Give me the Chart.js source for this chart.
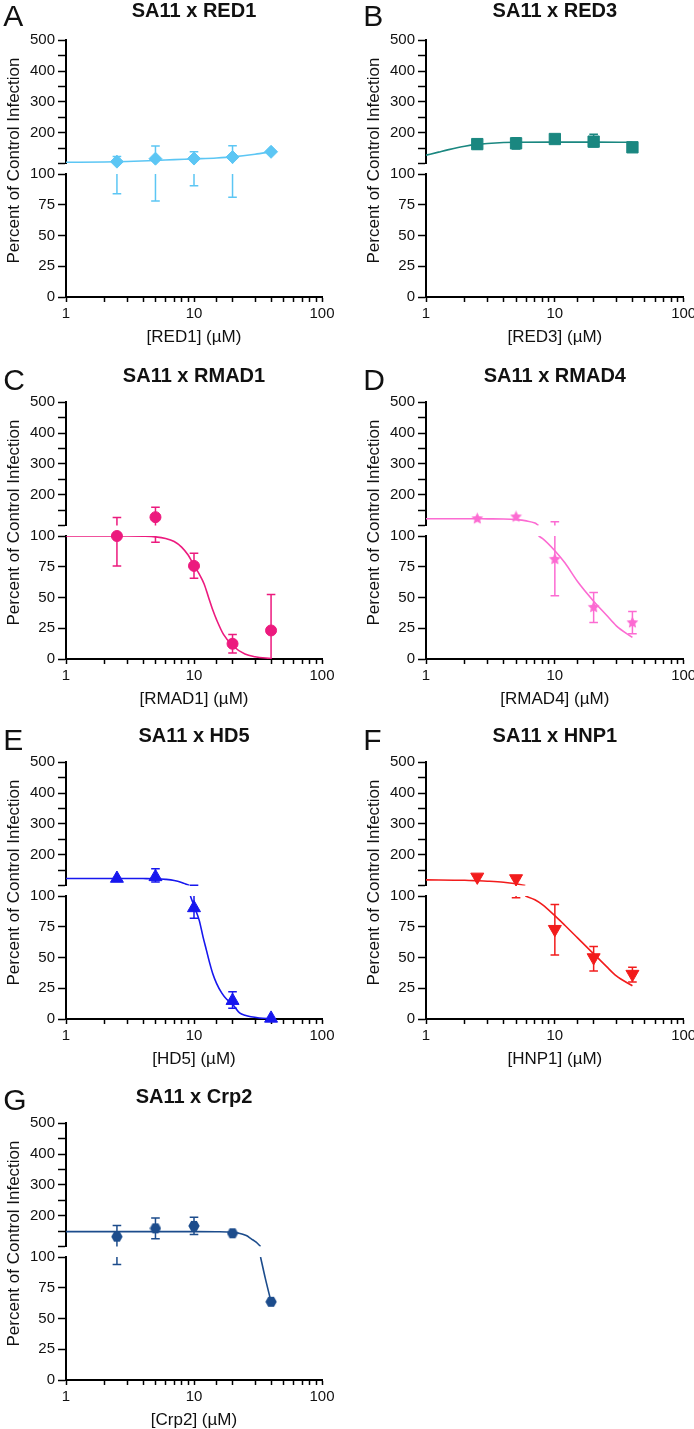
<!DOCTYPE html>
<html><head><meta charset="utf-8">
<script src="https://cdn.jsdelivr.net/npm/chart.js@4"></script>
<style>
html,body{margin:0;padding:0;background:#fff;overflow:hidden;width:694px;height:1429px;}
#wrap{position:relative;width:694px;height:1429px;overflow:hidden;}
.panel{position:absolute;width:347px;height:361px;}
.letter{position:absolute;font-family:"Liberation Sans",Arial,sans-serif;font-size:30px;line-height:30px;color:#111;}
</style></head><body><div id="wrap"></div>
<script>
// ---------------- DATA ----------------
const doses = [2.5, 5, 10, 20, 40];
const xTickLabels = [1, 10, 100];
const yUpperTickLabels = [200, 300, 400, 500];
const yLowerTickLabels = [0, 25, 50, 75, 100];

const panelLetters = ['A', 'B', 'C', 'D', 'E', 'F', 'G'];
const panelTitles = ['SA11 x RED1', 'SA11 x RED3', 'SA11 x RMAD1', 'SA11 x RMAD4', 'SA11 x HD5', 'SA11 x HNP1', 'SA11 x Crp2'];
const xAxisTitles = ['[RED1] (µM)', '[RED3] (µM)', '[RMAD1] (µM)', '[RMAD4] (µM)', '[HD5] (µM)', '[HNP1] (µM)', '[Crp2] (µM)'];
const yAxisTitle = 'Percent of Control Infection';

// RED1
const red1Mean = [106, 115.6, 116, 121, 138];
const red1Hi = [123, 157, 138, 158, 138];
const red1Lo = [84, 78, 90.5, 81, 138];
const red1UpperX = [1, 2, 3, 5, 7, 10, 15, 20, 30, 40];
const red1UpperY = [104, 105, 106.5, 110, 112.5, 115, 118, 121.5, 130, 138];
const red1LowerX = [];
const red1LowerY = [];
// RED3
const red3Mean = [163, 165.6, 179.5, 171, 152.6];
const red3Hi = [178, 184, 179.5, 195, 152.6];
const red3Lo = [147, 147, 179.5, 154.5, 152.6];
const red3UpperX = [1, 1.25, 1.5, 2, 2.5, 3, 4, 5, 10, 20, 40];
const red3UpperY = [127, 137, 145, 156, 162, 165, 168, 169, 169.5, 169.5, 169];
const red3LowerX = [];
const red3LowerY = [];
// RMAD1
const rmad1Mean = [100, 127, 75.7, 12.4, 23.2];
const rmad1Hi = [126, 159, 86, 20, 52.4];
const rmad1Lo = [75.7, 95, 65.6, 4.9, -6];
const rmad1UpperX = [];
const rmad1UpperY = [];
const rmad1LowerX = [1, 2, 3, 4, 5, 6, 7, 8, 9, 10, 11, 12, 13, 14, 15, 17, 20, 25, 30, 40];
const rmad1LowerY = [100, 100, 100, 99.8, 99.3, 98, 95.5, 91, 84.5, 76, 69, 61, 50, 40, 32, 20, 11, 4, 1.8, 0.4];
// RMAD4
const rmad4Mean = [122, 128, 81, 42, 29.5];
const rmad4Hi = [122, 128, 112, 54, 38.6];
const rmad4Lo = [122, 128, 51.4, 29.7, 20.6];
const rmad4UpperX = [1, 2, 3, 4, 5, 6, 7, 7.47];
const rmad4UpperY = [122, 122, 121.5, 121, 119, 115, 108, 100];
const rmad4LowerX = [7.47, 8, 10, 12, 15, 20, 25, 30, 40];
const rmad4LowerY = [100, 98, 88, 78, 63, 47, 36, 27, 17.5];
// HD5
const hd5Mean = [122.7, 128, 90.3, 14.9, 0.5];
const hd5Hi = [122.7, 154, 101, 22.1, 0.5];
const hd5Lo = [122.7, 111, 82, 8.7, 0.5];
const hd5UpperX = [1, 3, 4, 5, 6, 7, 8, 8.7, 9.2];
const hd5UpperY = [122.7, 122.7, 122.5, 122, 120, 116.5, 110, 104, 100];
const hd5LowerX = [9.37, 10, 11, 11.75, 12.5, 13.3, 14, 15, 16.5, 18, 20, 22.7, 25, 32.5, 40];
const hd5LowerY = [100, 92, 80, 67, 56, 45, 37, 29, 21, 16, 12, 5, 3, 0.8, 0.3];
// HNP1
const hnp1Mean = [128, 122.7, 73, 50, 36.5];
const hnp1Hi = [128, 122.7, 93, 59, 42];
const hnp1Lo = [128, 98.5, 52, 39, 30];
const hnp1UpperX = [1, 2, 2.5, 3, 4, 5, 5.9];
const hnp1UpperY = [118.4, 117, 115.5, 114, 110.5, 105.5, 100];
const hnp1LowerX = [5.9, 7, 8, 10, 12, 15, 20, 25, 30, 40];
const hnp1LowerY = [100, 97, 93, 84, 76, 66, 53, 43, 35, 27];
// Crp2
const crp2Mean = [132, 159, 166.8, 143, 63.6];
const crp2Hi = [168, 192.6, 194.6, 143, 63.6];
const crp2Lo = [94, 125, 138.7, 143, 63.6];
const crp2UpperX = [1, 10, 15, 20, 22, 25.6, 28, 30.6, 33.1];
const crp2UpperY = [148.4, 148.3, 148, 146.5, 144, 135.5, 125, 114, 100];
const crp2LowerX = [33.1, 36, 40];
const crp2LowerY = [100, 83, 63.6];

// ---------------- STYLE / LAYOUT ----------------
const FONT = '"Liberation Sans", Arial, sans-serif';
Chart.defaults.font.family = FONT;
const colLeft = [0, 360];
const rowTop = [0, 361.7, 722.4, 1083.4];
const letterOff = [1.1, 2.8, 3.0, 1.8];
const titlePadTop = [1.5, 4.0, 4.0, 4.0];
const TITLE_SIZE = 20;

function makeShape(kind, color, size) {
  const c = document.createElement('canvas');
  c.width = size; c.height = size;
  const g = c.getContext('2d');
  g.fillStyle = color;
  g.beginPath();
  const cx = size / 2, cy = size / 2, R = size / 2 - 0.3;
  if (kind === 'star') {
    for (let i = 0; i < 10; i++) {
      const r = i % 2 === 0 ? R : R * 0.48;
      const a = -Math.PI / 2 + i * Math.PI / 5;
      g.lineTo(cx + r * Math.cos(a), cy + r * Math.sin(a));
    }
  } else {
    for (let i = 0; i < 6; i++) {
      const a = i * Math.PI / 3;
      g.lineTo(cx + R * Math.cos(a), cy + R * Math.sin(a));
    }
  }
  g.closePath();
  g.fill();
  return c;
}

const panels = [
  {color: '#5cc6f4', style: 'rectRot', radius: 6.5, mean: red1Mean, hi: red1Hi, lo: red1Lo, ux: red1UpperX, uy: red1UpperY, lx: red1LowerX, ly: red1LowerY},
  {color: '#1a8780', style: 'rect', radius: 8, mean: red3Mean, hi: red3Hi, lo: red3Lo, ux: red3UpperX, uy: red3UpperY, lx: red3LowerX, ly: red3LowerY},
  {color: '#ec1a7e', style: 'circle', radius: 5.5, mean: rmad1Mean, hi: rmad1Hi, lo: rmad1Lo, ux: rmad1UpperX, uy: rmad1UpperY, lx: rmad1LowerX, ly: rmad1LowerY},
  {color: '#fc6bd2', style: 'star', radius: 5, mean: rmad4Mean, hi: rmad4Hi, lo: rmad4Lo, ux: rmad4UpperX, uy: rmad4UpperY, lx: rmad4LowerX, ly: rmad4LowerY},
  {color: '#1717ee', style: 'triangle', radius: 7.5, mean: hd5Mean, hi: hd5Hi, lo: hd5Lo, ux: hd5UpperX, uy: hd5UpperY, lx: hd5LowerX, ly: hd5LowerY},
  {color: '#f21c1c', style: 'triangle', radius: 7.5, rot: 180, mean: hnp1Mean, hi: hnp1Hi, lo: hnp1Lo, ux: hnp1UpperX, uy: hnp1UpperY, lx: hnp1LowerX, ly: hnp1LowerY},
  {color: '#1c4c8c', style: 'hex', radius: 5, mean: crp2Mean, hi: crp2Hi, lo: crp2Lo, ux: crp2UpperX, uy: crp2UpperY, lx: crp2LowerX, ly: crp2LowerY}
];

function errorBarPlugin(p) {
  return {
    id: 'errorBars',
    beforeDatasetsDraw(chart) {
      const {ctx, scales} = chart;
      const xs = scales.x, yU = scales.yU, yL = scales.yL;
      const pix = v => (v > 100 ? yU : yL).getPixelForValue(v);
      ctx.save();
      ctx.strokeStyle = p.color;
      ctx.lineWidth = 1.5;
      doses.forEach((d, i) => {
        const lo = p.lo[i], hi = p.hi[i];
        if (hi - lo < 0.01) return;
        const px = xs.getPixelForValue(d);
        ctx.beginPath();
        if (hi > 100) {
          ctx.moveTo(px, yU.getPixelForValue(Math.max(lo, 100)));
          ctx.lineTo(px, yU.getPixelForValue(Math.min(hi, 500)));
        }
        if (lo < 100) {
          ctx.moveTo(px, yL.getPixelForValue(Math.max(lo, 0)));
          ctx.lineTo(px, yL.getPixelForValue(Math.min(hi, 100)));
        }
        const cw = 4.3;
        [hi, lo].forEach(v => {
          if (v >= 0 && v <= 500) {
            const py = pix(v);
            ctx.moveTo(px - cw, py);
            ctx.lineTo(px + cw, py);
          }
        });
        ctx.stroke();
      });
      ctx.restore();
    }
  };
}

function yTitlePlugin(text) {
  return {
    id: 'yTitle',
    afterDraw(chart) {
      const ctx = chart.ctx;
      ctx.save();
      ctx.translate(14.3, 160.5);
      ctx.rotate(-Math.PI / 2);
      ctx.textAlign = 'center';
      ctx.textBaseline = 'middle';
      ctx.font = '17px ' + FONT;
      ctx.fillStyle = '#111';
      ctx.fillText(text, 0, 0);
      ctx.restore();
    }
  };
}

const wrap = document.getElementById('wrap');
panels.forEach((p, k) => {
  const col = k % 2, row = Math.floor(k / 2);
  const div = document.createElement('div');
  div.className = 'panel';
  div.style.left = colLeft[col] + 'px';
  div.style.top = rowTop[row] + 'px';
  const cv = document.createElement('canvas');
  div.appendChild(cv);
  wrap.appendChild(div);
  const letter = document.createElement('div');
  letter.className = 'letter';
  letter.textContent = panelLetters[k];
  letter.style.left = (colLeft[col] + 3.3) + 'px';
  letter.style.top = (rowTop[row] + letterOff[row]) + 'px';
  wrap.appendChild(letter);

  let pStyle = p.style;
  if (p.style === 'star') pStyle = makeShape('star', p.color, 13);
  if (p.style === 'hex') pStyle = makeShape('hex', p.color, 12);

  const ptsU = [], ptsL = [];
  doses.forEach((d, i) => { (p.mean[i] > 100 ? ptsU : ptsL).push({x: d, y: p.mean[i]}); });
  const curveU = p.ux.map((x, i) => ({x, y: p.uy[i]}));
  const curveL = p.lx.map((x, i) => ({x, y: p.ly[i]}));

  const pointDs = (data, axis) => ({
    data, yAxisID: axis, showLine: false, pointStyle: pStyle, pointRadius: p.radius, pointHoverRadius: p.radius,
    pointRotation: p.rot || 0, backgroundColor: p.color, borderColor: p.color, pointBorderWidth: 1, clip: false, order: 0
  });
  const lineDs = (data, axis) => ({
    data, yAxisID: axis, showLine: true, pointRadius: 0, pointHoverRadius: 0, borderColor: p.color,
    backgroundColor: p.color, borderWidth: 1.6, cubicInterpolationMode: 'monotone', fill: false, order: 1
  });

  const tickFont = {family: FONT, size: 15};
  const yCommon = (min, max, weight, stepSize, cb) => ({
    type: 'linear', position: 'left', stack: 'y', stackWeight: weight, min, max, display: true,
    afterFit: s => { s.width = 36; },
    border: {display: true, color: '#000', width: 2},
    grid: {display: true, drawOnChartArea: false, drawTicks: true, tickLength: 8, color: '#000', tickColor: '#000', tickWidth: 1.5},
    ticks: {stepSize, padding: 3, color: '#111', font: tickFont, autoSkip: false, callback: cb}
  });

  new Chart(cv, {
    type: 'scatter',
    data: {
      datasets: [
        pointDs(ptsU, 'yU'), pointDs(ptsL, 'yL'),
        lineDs(curveU, 'yU'), lineDs(curveL, 'yL')
      ]
    },
    options: {
      responsive: true, maintainAspectRatio: false, animation: false,
      layout: {padding: {left: 30, right: col === 0 ? 25 : 23.3, top: 0, bottom: 0}},
      plugins: {
        legend: {display: false}, tooltip: {enabled: false},
        title: {
          display: true, text: panelTitles[k], color: '#111', fullSize: false,
          font: {family: FONT, size: TITLE_SIZE, weight: 'bold', lineHeight: 1},
          padding: {top: titlePadTop[row], bottom: 40.3 - titlePadTop[row] - TITLE_SIZE}
        }
      },
      scales: {
        x: {
          type: 'logarithmic', position: 'bottom', min: 1, max: 100,
          afterFit: s => { s.height = 64; },
          border: {display: true, color: '#000', width: 2},
          grid: {display: true, drawOnChartArea: false, drawTicks: true, tickLength: 5, color: '#000', tickColor: '#000', tickWidth: 1.5},
          ticks: {autoSkip: false, maxRotation: 0, padding: 3, color: '#111', font: tickFont,
            callback: v => xTickLabels.includes(v) ? String(v) : ''},
          title: {display: true, text: xAxisTitles[k], color: '#111', font: {family: FONT, size: 17}, padding: {top: 0, bottom: 13}}
        },
        yL: yCommon(0, 100, 123, 25, v => yLowerTickLabels.includes(v) ? String(v) : ''),
        yG: {type: 'linear', position: 'left', stack: 'y', stackWeight: 10.5, min: 0, max: 1, display: true,
          afterFit: s => { s.width = 36; },
          grid: {display: false}, border: {display: false}, ticks: {display: false}},
        yU: yCommon(100, 500, 123.2, 50, v => yUpperTickLabels.includes(v) ? String(v) : '')
      }
    },
    plugins: [errorBarPlugin(p), yTitlePlugin(yAxisTitle)]
  });
});
</script></body></html>
